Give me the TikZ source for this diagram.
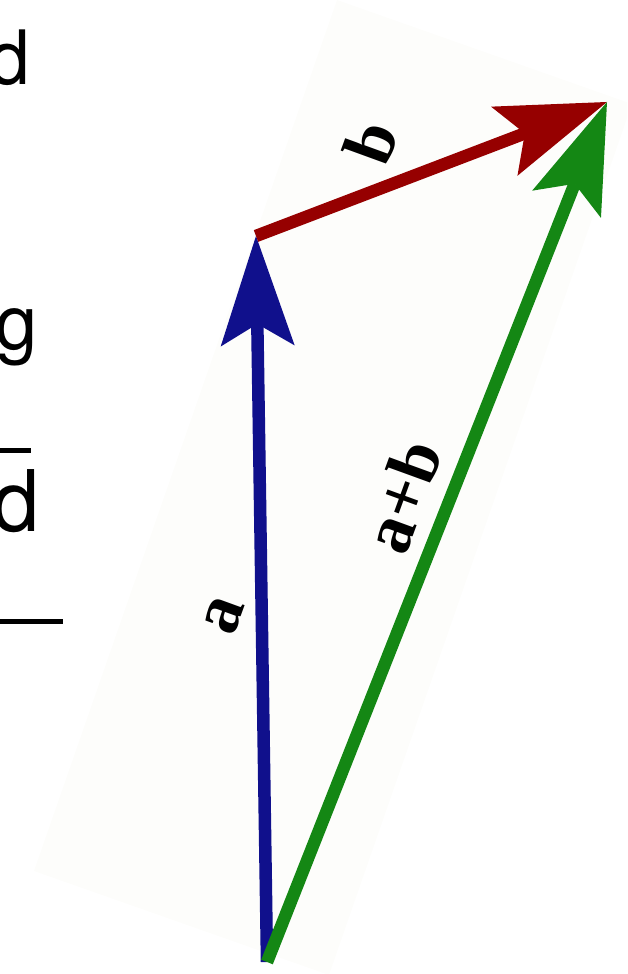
\documentclass[tikz,border=0pt]{standalone}
\usepackage{fontspec}
\setmainfont{TeX Gyre Heros}
\newfontfamily\labelfont{Liberation Serif}
\usetikzlibrary{arrows.meta}
\definecolor{vecblue}{RGB}{16,16,140}
\definecolor{vecred}{RGB}{150,0,0}
\definecolor{vecgreen}{RGB}{20,135,20}
\definecolor{paper}{RGB}{253,253,251}
\begin{document}
\begin{tikzpicture}[x=1pt, y=1pt,
        vector/.style={line width=12.5pt, -{Stealth[length=110pt, width=74pt, inset=22pt, line width=0pt]}},
        veclabel/.style={font=\labelfont\bfseries\fontsize{70}{70}\selectfont, rotate=70, inner sep=0pt},
        cut/.style={anchor=base west, inner sep=0pt},
        rule/.style={line width=4.5pt}]

    \useasboundingbox (0,0) rectangle (627,974);
    \clip (0,0) rectangle (627,974);

    \fill [paper] (337,974) -- (632,870) -- (329,-1) -- (34,103) -- cycle;

    \node [cut, font=\fontsize{75}{80}\selectfont] (d1) at (-11.4,889) {d};
    \node [cut, font=\fontsize{76}{80}\selectfont] (g1) at (-5,624) {g};
    \node [cut, font=\fontsize{85}{90}\selectfont] (d2) at (-7.4,442) {d};
    \draw [rule] (0,523.5) -- (31,523.5);
    \draw [rule] (0,352.5) -- (63,352.5);

    \coordinate (O) at (267,12);
    \coordinate (A) at (256,738);
    \coordinate (B) at (607,872);

    \draw [vector, vecblue] (O) -- (A);
    \draw [vector, vecred] (A) -- (B);
    \draw [vector, vecgreen] (O) -- (B);

    \node [veclabel] (la) at (224,358) {a};
    \node [veclabel] (lb) at (371,832) {b};
    \node [veclabel] (lab) at (402,478) {a+b};

\end{tikzpicture}
\end{document}
